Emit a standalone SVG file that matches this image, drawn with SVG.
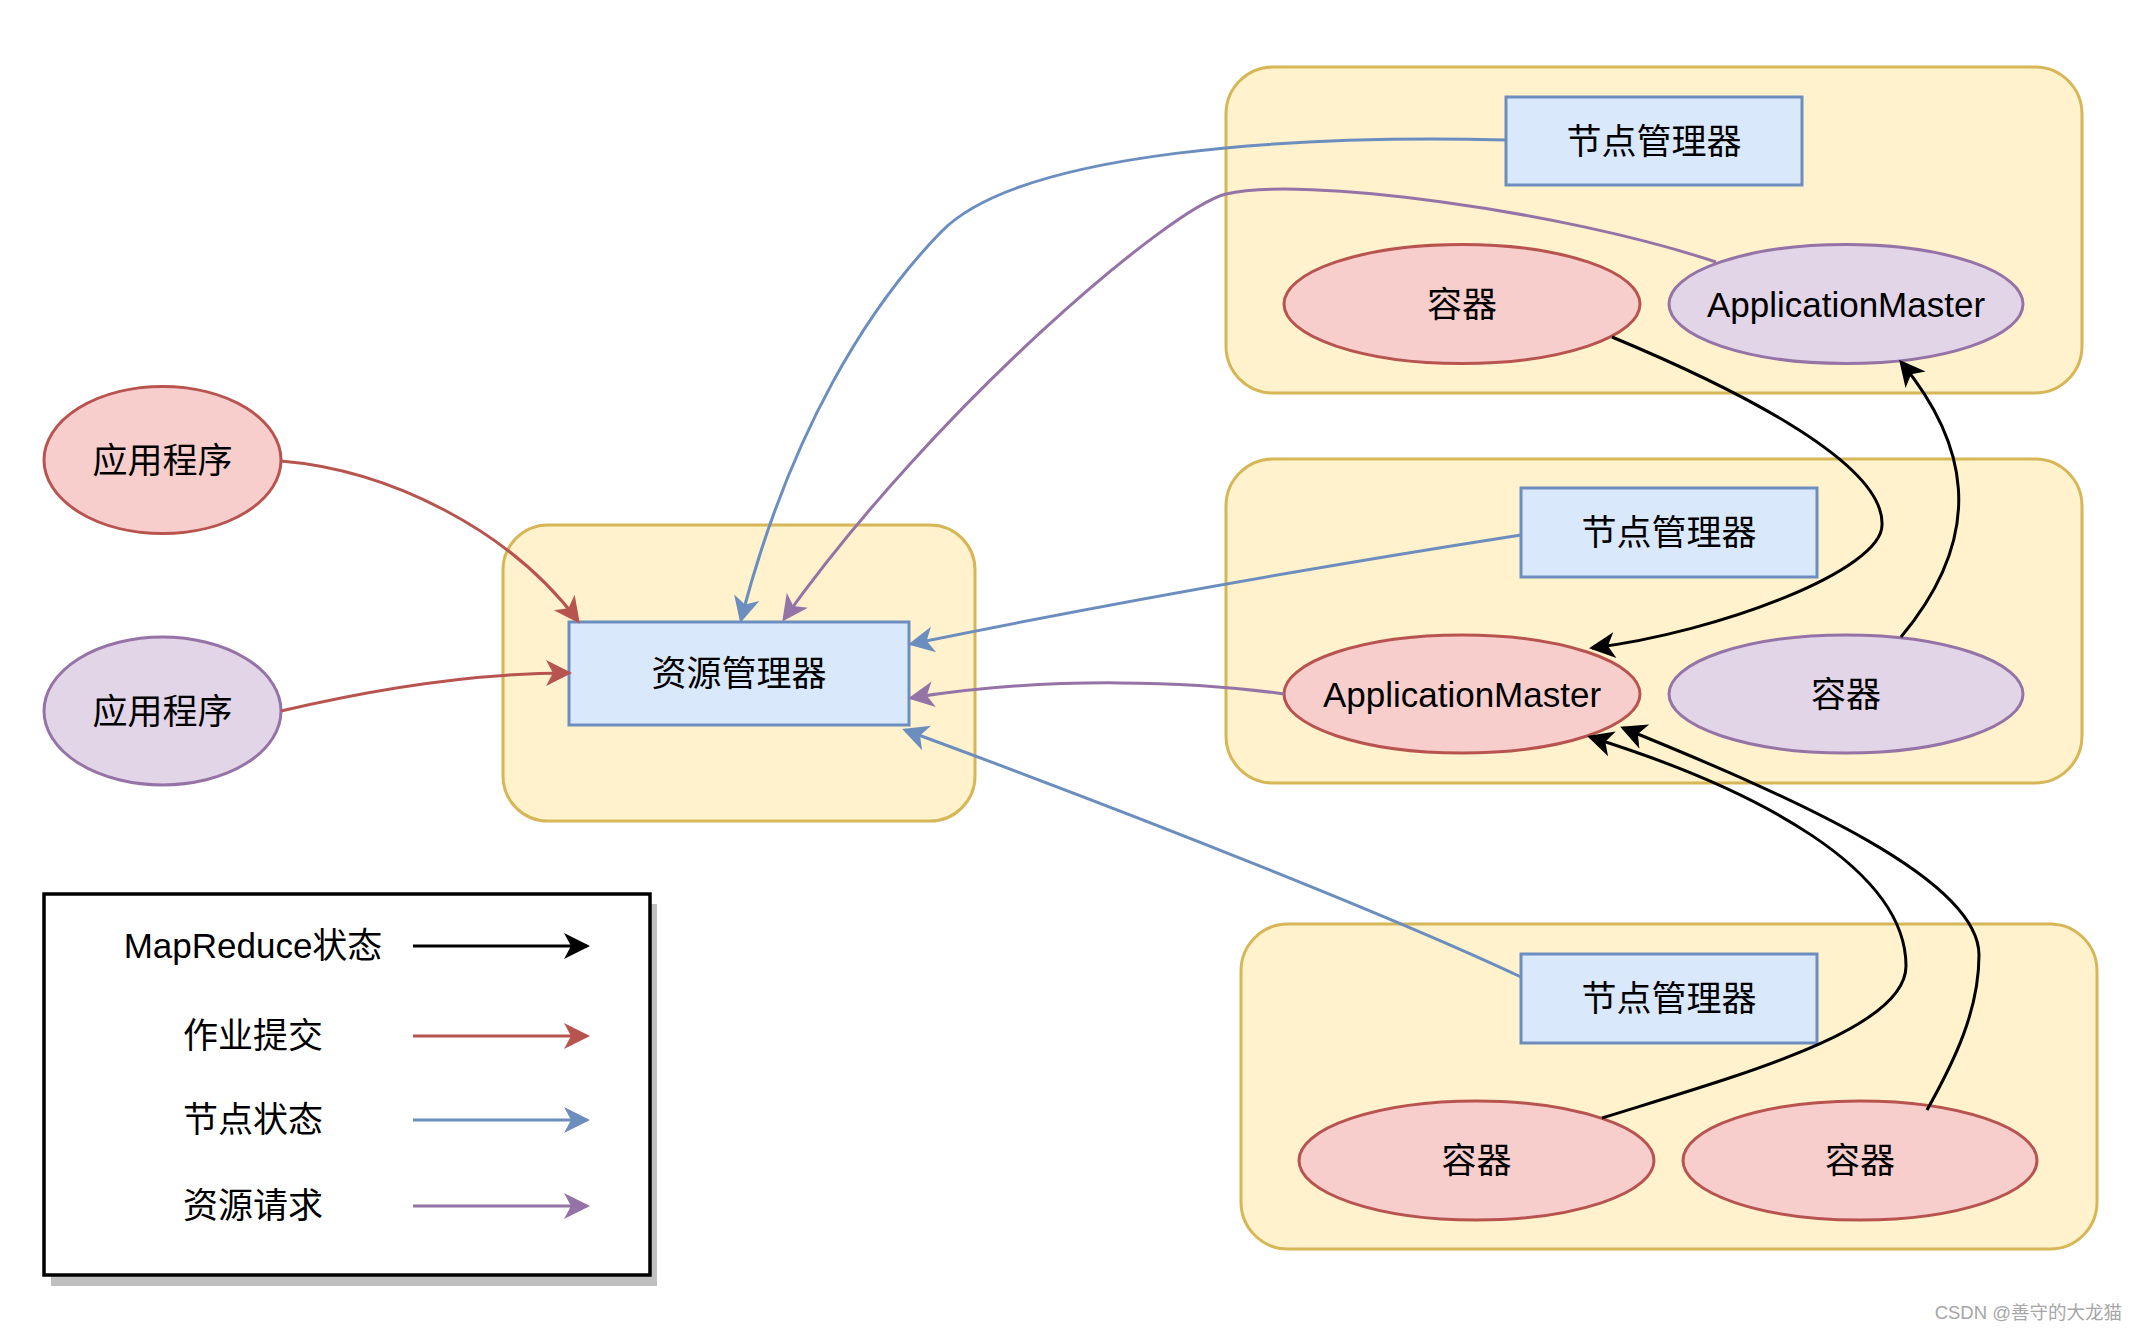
<svg xmlns="http://www.w3.org/2000/svg" width="2138" height="1333" viewBox="0 0 2138 1333">
<style>
.container{fill:#fff2cc;stroke:#d6b656;stroke-width:3}
.nm{fill:#dae8fc;stroke:#6c8ebf;stroke-width:3}
.red{fill:#f8cecc;stroke:#b85450;stroke-width:3}
.purple{fill:#e1d5e7;stroke:#9673a6;stroke-width:3}
.lbl{font-family:"Liberation Sans","Noto Sans CJK SC",sans-serif;font-size:35px;fill:#000;text-anchor:middle}
.edge{fill:none;stroke-width:3}
.k{stroke:#000;marker-end:url(#ak)}
.r{stroke:#b85450;marker-end:url(#ar)}
.b{stroke:#6c8ebf;marker-end:url(#ab)}
.p{stroke:#9673a6;marker-end:url(#ap)}
.wm{font-family:"Liberation Sans","Noto Sans CJK SC",sans-serif;font-size:18.5px;fill:#a6a6a6;text-anchor:end}
</style>
<defs>
<marker id="ak" markerUnits="userSpaceOnUse" markerWidth="28" markerHeight="28" viewBox="0 0 28 28" refX="24" refY="14" orient="auto"><path d="M27,14 L1,1 L8,14 L1,27 Z" fill="#000"/></marker>
<marker id="ar" markerUnits="userSpaceOnUse" markerWidth="28" markerHeight="28" viewBox="0 0 28 28" refX="24" refY="14" orient="auto"><path d="M27,14 L1,1 L8,14 L1,27 Z" fill="#b85450"/></marker>
<marker id="ab" markerUnits="userSpaceOnUse" markerWidth="28" markerHeight="28" viewBox="0 0 28 28" refX="24" refY="14" orient="auto"><path d="M27,14 L1,1 L8,14 L1,27 Z" fill="#6c8ebf"/></marker>
<marker id="ap" markerUnits="userSpaceOnUse" markerWidth="28" markerHeight="28" viewBox="0 0 28 28" refX="24" refY="14" orient="auto"><path d="M27,14 L1,1 L8,14 L1,27 Z" fill="#9673a6"/></marker>
</defs>
<rect width="2138" height="1333" fill="#ffffff"/>

<g id="container-rm"><rect class="container" x="503" y="525" width="472" height="296" rx="45" ry="45"/></g>
<g id="container-node1"><rect class="container" x="1226" y="67" width="856" height="326" rx="47" ry="47"/></g>
<g id="container-node2"><rect class="container" x="1226" y="459" width="856" height="324" rx="47" ry="47"/></g>
<g id="container-node3"><rect class="container" x="1241" y="924" width="856" height="325" rx="47" ry="47"/></g>

<g id="app1"><ellipse class="red" cx="162.5" cy="460" rx="118.5" ry="73.5"/><text class="lbl" x="162.5" y="473">应用程序</text></g>
<g id="app2"><ellipse class="purple" cx="162.5" cy="711" rx="118.5" ry="74"/><text class="lbl" x="162.5" y="724">应用程序</text></g>
<g id="rm"><rect class="nm" x="569" y="622" width="340" height="103"/><text class="lbl" x="739" y="686">资源管理器</text></g>

<g id="nm1"><rect class="nm" x="1506" y="97" width="296" height="88"/><text class="lbl" x="1654" y="153.5">节点管理器</text></g>
<g id="c1"><ellipse class="red" cx="1462" cy="304" rx="178" ry="59.5"/><text class="lbl" x="1462" y="317">容器</text></g>
<g id="am1"><ellipse class="purple" cx="1846" cy="304" rx="177" ry="59.5"/><text class="lbl" x="1846" y="317">ApplicationMaster</text></g>

<g id="nm2"><rect class="nm" x="1521" y="488" width="296" height="89"/><text class="lbl" x="1669" y="545">节点管理器</text></g>
<g id="am2"><ellipse class="red" cx="1462" cy="694" rx="178" ry="59"/><text class="lbl" x="1462" y="707">ApplicationMaster</text></g>
<g id="c2"><ellipse class="purple" cx="1846" cy="694" rx="177" ry="59"/><text class="lbl" x="1846" y="707">容器</text></g>

<g id="nm3"><rect class="nm" x="1521" y="954" width="296" height="89"/><text class="lbl" x="1669" y="1011">节点管理器</text></g>
<g id="c3"><ellipse class="red" cx="1476.5" cy="1160.5" rx="177.5" ry="59.5"/><text class="lbl" x="1476.5" y="1173">容器</text></g>
<g id="c4"><ellipse class="red" cx="1860" cy="1160.5" rx="177" ry="59.5"/><text class="lbl" x="1860" y="1173">容器</text></g>

<g id="connectors">
<path class="edge b" d="M1506,140 C1300,135 1020,150 941,232 C870,305 790,430 741,620"/>
<path class="edge p" d="M1716,262 C1560,210 1300,176 1226,194 C1170,208 936,406 784,619"/>
<path class="edge r" d="M281,461 C390,470 510,530 578,621"/>
<path class="edge r" d="M281,711 C370,690 470,673 569,673"/>
<path class="edge b" d="M1521,535 Q1200,585 911,644"/>
<path class="edge p" d="M1284,694 C1200,682 1050,675 911,698"/>
<path class="edge b" d="M1521,977 C1400,920 1150,820 905,730"/>
<path class="edge k" d="M1612,337 C1720,382 1885,460 1882,525 C1882,570 1720,632 1592,648"/>
<path class="edge k" d="M1901,637 C1990,530 1965,440 1901,362"/>
<path class="edge k" d="M1602,1118 C1740,1075 1906,1030 1906,966 C1906,870 1760,790 1590,737"/>
<path class="edge k" d="M1927,1110 C1955,1060 1979,1010 1979,955 C1979,880 1800,800 1623,728"/>
</g>

<g id="legend">
<rect x="51" y="904" width="606" height="382" fill="#c0c0c0"/>
<rect x="44" y="894" width="606" height="381" fill="#ffffff" stroke="#000" stroke-width="3.5"/>
<text class="lbl" x="253" y="958">MapReduce状态</text>
<text class="lbl" x="253" y="1048">作业提交</text>
<text class="lbl" x="253" y="1132">节点状态</text>
<text class="lbl" x="253" y="1218">资源请求</text>
<path class="edge k" d="M413,946 L587,946"/>
<path class="edge r" d="M413,1036 L587,1036"/>
<path class="edge b" d="M413,1120 L587,1120"/>
<path class="edge p" d="M413,1206 L587,1206"/>
</g>

<text class="wm" x="2122" y="1319">CSDN @善守的大龙猫</text>
</svg>
